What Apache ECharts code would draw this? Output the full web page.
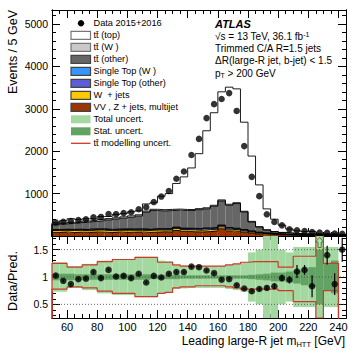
<!DOCTYPE html>
<html><head><meta charset="utf-8">
<script src="https://cdn.jsdelivr.net/npm/echarts@6/dist/echarts.min.js"></script>
<style>html,body{margin:0;padding:0;background:#fff}#c{width:353px;height:350px}</style>
</head><body><div id="c"></div>
<script>
const FONT = "'Liberation Sans', Arial, Helvetica, sans-serif";
const binLow = [50,55,60,65,70,75,80,85,90,95,100,105,110,115,120,125,130,135,140,145,150,155,160,165,170,175,180,185,190,195,200,205,210,215,220,225,230,235,240];
const binWidth = 5;
const dataEvents = [320,335,355,375,395,440,450,520,515,540,560,630,680,800,930,1060,1350,1520,1910,2290,2780,3110,3230,3370,2950,2120,1395,940,511,329,251,156,133,116,92,80,75,60,52];
const vvZjets = [85,95,80,90,85,95,90,80,95,85,90,95,85,90,100,95,130,110,100,95,105,120,170,120,110,90,70,50,40,30,25,20,15,15,12,10,10,8,6];
const wJets = [45,40,50,45,40,45,50,45,40,50,45,40,45,50,40,45,45,40,45,40,45,40,45,40,35,30,25,20,15,12,10,8,7,6,5,4,4,3,3];
const stOther = [15,15,18,15,17,18,18,20,18,20,20,22,20,22,22,24,25,25,26,28,30,30,32,30,28,24,18,14,10,8,6,5,4,4,3,3,3,2,2];
const stW = [8,8,9,10,10,11,12,13,14,15,14,14,13,12,12,11,10,10,10,10,10,11,12,11,10,9,8,7,6,5,4,4,3,3,3,2,2,2,2];
const ttOther = [112,127,143,155,178,176,190,222,233,250,271,299,397,426,416,425,400,415,419,447,450,499,567,523,582,413,209,119,69,45,35,28,26,20,22,21,16,18,17];
const ttW = [20,20,22,22,25,25,28,30,30,32,35,30,28,30,30,28,25,25,25,25,25,25,25,25,20,18,15,10,8,6,5,4,4,3,3,3,2,2,2];
const ttTop = [27,55,86,53,52,34,71,50,80,77,96,94,168,154,319,372,604,769,980,1296,1817,2182,2549,2761,2685,2100,1540,985,491,290,171,95,62,52,63,2,17,34,5];
const ratio = [1.025,0.93,0.87,0.96,0.97,1.09,0.98,1.13,1.01,1.02,0.98,1.06,0.90,1.02,0.99,1.06,1.09,1.09,1.19,1.18,1.12,1.07,0.95,0.96,0.85,0.79,0.74,0.78,0.80,0.83,0.98,0.95,1.10,1.13,0.83,2.0,1.40,0.87,1.50];
const ratioErr = [0.02,0.02,0.02,0.02,0.02,0.02,0.02,0.02,0.02,0.02,0.02,0.02,0.02,0.02,0.02,0.02,0.02,0.02,0.02,0.02,0.02,0.02,0.02,0.02,0.02,0.02,0.02,0.03,0.04,0.05,0.06,0.07,0.12,0.09,0.2,0,0.17,0.2,0.22];
const totUnc = [0.27,0.27,0.2,0.2,0.24,0.24,0.3,0.3,0.33,0.33,0.33,0.37,0.37,0.37,0.3,0.29,0.22,0.21,0.2,0.2,0.2,0.2,0.2,0.22,0.24,0.27,0.45,0.5,0.75,0.75,0.5,0.45,0.55,0.55,0.55,0.9,0.55,0.55,0];
const statUnc = [0.06,0.06,0.06,0.05,0.05,0.05,0.05,0.05,0.05,0.05,0.05,0.05,0.05,0.04,0.04,0.04,0.04,0.03,0.03,0.03,0.03,0.03,0.03,0.03,0.03,0.03,0.04,0.05,0.06,0.08,0.08,0.1,0.12,0.15,0.18,0.5,0.25,0.3,0];
const modUp = [0.25,0.25,0.18,0.18,0.22,0.22,0.28,0.28,0.32,0.32,0.32,0.36,0.36,0.36,0.27,0.27,0.22,0.2,0.2,0.2,0.2,0.2,0.2,0.22,0.24,0.27,0.28,0.28,0.28,0.28,0.18,0.18,0.38,0.38,0.38,1.0,0.25,0.25];
const modDn = [0.22,0.22,0.18,0.18,0.2,0.2,0.26,0.26,0.3,0.3,0.3,0.36,0.36,0.36,0.3,0.28,0.2,0.18,0.18,0.16,0.16,0.16,0.16,0.18,0.2,0.22,0.22,0.22,0.22,0.22,0.25,0.25,0.45,0.45,0.45,0.75,0.25,0.25];
const xTickLabels = [60,80,100,120,140,160,180,200,220,240];
const yTickLabels = [1000,2000,3000,4000,5000];
const rTickLabels = [0.5,1,1.5];
const refLines = [0.5,1,1.5];
const xRange = [50,245], yRange = [0,5330], rRange = [0.25,1.75];

const layers = [
  {vals: vvZjets, color:'#9a3606'},
  {vals: wJets, color:'#ffc800'},
  {vals: stOther, color:'#5d5dd6'},
  {vals: stW, color:'#3696ff'},
  {vals: ttOther, color:'#666666'},
  {vals: ttW, color:'#c9c9c9'},
  {vals: ttTop, color:'#ffffff'}
];

function range(a,b,s){const r=[];for(let v=a;v<=b+1e-9;v+=s)r.push(Math.round(v*1000)/1000);return r;}
const xMinor = range(50,245,5), yMinor = range(0,5300,200), rMinor = range(0.3,1.7,0.1);

function clampRect(params, api){
  const cs = params.coordSys;
  const p0 = api.coord([api.value(0), api.value(3)]);
  const p1 = api.coord([api.value(1), api.value(2)]);
  let y0 = Math.max(cs.y, Math.min(cs.y+cs.height, p0[1]));
  let y1 = Math.max(cs.y, Math.min(cs.y+cs.height, p1[1]));
  return {x:p0[0], y:y0, width:p1[0]-p0[0], height:y1-y0};
}
function rectSeries(items, color, xi, yi, z){
  return {type:'custom', xAxisIndex:xi, yAxisIndex:yi, z:z, silent:true, animation:false,
    encode:{x:[0,1], y:[2,3]}, data:items,
    renderItem:(params, api)=>({type:'rect', shape:clampRect(params, api), style:{fill:color}})};
}

const series = [];
let cum = binLow.map(()=>0);
const outlines = [];
layers.forEach((L)=>{
  const lo = cum.slice();
  const hi = cum.map((c,i)=>c+L.vals[i]);
  series.push(rectSeries(binLow.map((x,i)=>[x, x+binWidth, lo[i], hi[i]]), L.color, 0, 0, 2));
  const pts = [[binLow[0],0]];
  hi.forEach((h,i)=>{pts.push([binLow[i],h]); pts.push([binLow[i]+binWidth,h]);});
  pts.push([binLow[binLow.length-1]+binWidth,0]);
  outlines.push({type:'line', xAxisIndex:0, yAxisIndex:0, z:3, data:pts, symbol:'none', silent:true, animation:false,
    lineStyle:{color:'#000', width:0.9}});
  cum = hi;
});
outlines.forEach(o=>series.push(o));
series.push({type:'scatter', xAxisIndex:0, yAxisIndex:0, z:5, symbol:'circle', symbolSize:6.5, animation:false,
  itemStyle:{color:'#000'}, data: dataEvents.map((v,i)=>[binLow[i]+binWidth/2, v])});

series.push(rectSeries(binLow.map((x,i)=>[x, x+binWidth, 1-totUnc[i], 1+totUnc[i]]).filter((d,i)=>totUnc[i]>0), '#a3d9a0', 4, 4, 1));
series.push(rectSeries(binLow.map((x,i)=>[x, x+binWidth, 1-statUnc[i], 1+statUnc[i]]).filter((d,i)=>statUnc[i]>0), '#62a262', 4, 4, 2));
refLines.forEach(r=>series.push({type:'line', xAxisIndex:4, yAxisIndex:4, z:3, symbol:'none', silent:true, animation:false,
  data:[[xRange[0], r],[xRange[1], r]], lineStyle:{color:'#444', width:0.8, type:[1,2]}}));
function modLine(devs, sign){
  const pts = [[binLow[0], rRange[0]-1]];
  devs.forEach((d,i)=>{pts.push([binLow[i], 1+sign*d]); pts.push([binLow[i]+binWidth, 1+sign*d]);});
  pts.push([binLow[devs.length-1]+binWidth, rRange[0]-1]);
  return {type:'line', xAxisIndex:4, yAxisIndex:4, z:4, data:pts, symbol:'none', silent:true, animation:false, clip:true,
    lineStyle:{color:'#cc3a2a', width:1.2}};
}
series.push(modLine(modUp, 1));
series.push(modLine(modDn, -1));
series.push({type:'custom', xAxisIndex:4, yAxisIndex:4, z:6, silent:true, animation:false,
  encode:{x:0, y:[1,2]},
  data: ratio.map((r,i)=>[binLow[i]+binWidth/2, r-ratioErr[i], r+ratioErr[i]]).filter((d,i)=>ratio[i]<=rRange[1] && ratioErr[i]>0),
  renderItem:(params, api)=>{
    const a = api.coord([api.value(0), api.value(1)]);
    const b = api.coord([api.value(0), api.value(2)]);
    return {type:'line', shape:{x1:a[0], y1:a[1], x2:b[0], y2:b[1]}, style:{stroke:'#000', lineWidth:1.2}};
  }});
series.push({type:'scatter', xAxisIndex:4, yAxisIndex:4, z:7, symbol:'circle', symbolSize:6.5, animation:false,
  itemStyle:{color:'#000'}, data: ratio.map((r,i)=>[binLow[i]+binWidth/2, r]).filter(d=>d[1]<=rRange[1])});
series.push({type:'custom', xAxisIndex:4, yAxisIndex:4, z:7, silent:true, animation:false,
  encode:{x:0, y:1},
  data: ratio.map((r,i)=>[binLow[i]+binWidth/2, r]).filter(d=>d[1]>rRange[1]),
  renderItem:(params, api)=>{
    const cs = params.coordSys;
    const c = api.coord([api.value(0), rRange[1]]);
    const x = c[0], t = cs.y + 1.5;
    return {type:'polygon', shape:{points:[[x,t],[x+4,t+4.5],[x+1.6,t+4.5],[x+1.6,t+10],[x-1.6,t+10],[x-1.6,t+4.5],[x-4,t+4.5]]},
      style:{fill:'#b5e3b0', stroke:'#2d6b2d', lineWidth:0.8}};
  }});

function xAx(grid, pos, ticks, len, labels){
  return {type:'value', gridIndex:grid, position:pos, min:xRange[0], max:xRange[1],
    axisLine:{show:true, onZero:false, lineStyle:{color:'#000', width:1}},
    axisTick:{show:true, inside:true, length:len, customValues:ticks, lineStyle:{color:'#000', width:1}},
    axisLabel: labels ? {show:true, customValues:xTickLabels, margin:3, color:'#000', fontSize:11, fontFamily:FONT, formatter:v=>String(v)} : {show:false},
    splitLine:{show:false}};
}
function yAx(grid, pos, rng, ticks, len, labels, fs){
  return {type:'value', gridIndex:grid, position:pos, min:rng[0], max:rng[1],
    axisLine:{show:true, onZero:false, lineStyle:{color:'#000', width:1}},
    axisTick:{show:true, inside:true, length:len, customValues:ticks, lineStyle:{color:'#000', width:1}},
    axisLabel: labels ? {show:true, customValues:labels, margin:4, color:'#000', fontSize:fs, fontFamily:FONT, formatter:v=>String(v)} : {show:false},
    splitLine:{show:false}};
}

const option = {
  animation:false,
  backgroundColor:'#fff',
  grid:[{left:52, top:10, width:294, height:226}, {left:52, top:236, width:294, height:82}],
  xAxis:[
    xAx(0,'bottom',xTickLabels,8,false), xAx(0,'top',xTickLabels,8,false),
    xAx(0,'bottom',xMinor,4,false), xAx(0,'top',xMinor,4,false),
    xAx(1,'bottom',xTickLabels,8,true), xAx(1,'top',xTickLabels,8,false),
    xAx(1,'bottom',xMinor,4,false), xAx(1,'top',xMinor,4,false)
  ],
  yAxis:[
    yAx(0,'left',yRange,yTickLabels,8,yTickLabels,10.5), yAx(0,'right',yRange,yTickLabels,8,null),
    yAx(0,'left',yRange,yMinor,4,null), yAx(0,'right',yRange,yMinor,4,null),
    yAx(1,'left',rRange,rTickLabels,8,rTickLabels,10.5), yAx(1,'right',rRange,rTickLabels,8,null),
    yAx(1,'left',rRange,rMinor,4,null), yAx(1,'right',rRange,rMinor,4,null)
  ],
  series: series,
  graphic: []
};

const legendItems = [
  {label:'Data 2015+2016', kind:'dot'},
  {label:'tt̄ (top)', kind:'box', fill:'#ffffff', stroke:'#777'},
  {label:'tt̄ (W )', kind:'box', fill:'#c9c9c9', stroke:'#777'},
  {label:'tt̄ (other)', kind:'box', fill:'#666666', stroke:'#444'},
  {label:'Single Top (W )', kind:'box', fill:'#3696ff', stroke:'#444'},
  {label:'Single Top (other)', kind:'box', fill:'#5d5dd6', stroke:'#444'},
  {label:'W  + jets', kind:'box', fill:'#ffc800', stroke:'#444'},
  {label:'VV , Z + jets, multijet', kind:'box', fill:'#9a3606', stroke:'#444'},
  {label:'Total uncert.', kind:'box', fill:'#a3d9a0', stroke:null},
  {label:'Stat. uncert.', kind:'box', fill:'#62a262', stroke:null},
  {label:'tt̄ modelling uncert.', kind:'line', color:'#cc3a2a'}
];
const g = [];
legendItems.forEach((it, i)=>{
  const yc = 23.3 + 12*i;
  if (it.kind==='dot') g.push({type:'circle', shape:{cx:81, cy:yc, r:3.2}, style:{fill:'#000'}});
  else if (it.kind==='box') g.push({type:'rect', shape:{x:71, y:yc-4, width:19.5, height:8}, style:{fill:it.fill, stroke:it.stroke||null, lineWidth:it.stroke?1.2:0}});
  else g.push({type:'line', shape:{x1:71, y1:yc, x2:90.5, y2:yc}, style:{stroke:it.color, lineWidth:1.3}});
  g.push({type:'text', x:93.5, y:yc, style:{text:it.label, fill:'#000', font:'9.2px '+FONT, textAlign:'left', textVerticalAlign:'middle'}});
});
g.push({type:'text', x:215, y:23.5, style:{text:'ATLAS', fill:'#000', font:'italic bold 11px '+FONT, textVerticalAlign:'middle'}});
g.push({type:'text', x:215, y:36, style:{text:'{n|√s = 13 TeV, 36.1 fb}{u|-1}', rich:{n:{fontSize:10, fontFamily:FONT, fill:'#000'}, u:{fontSize:7, fontFamily:FONT, fill:'#000', verticalAlign:'top', padding:[0,0,4,0]}}, textVerticalAlign:'middle'}});
g.push({type:'text', x:215, y:48.3, style:{text:'Trimmed C/A R=1.5 jets', fill:'#000', font:'10px '+FONT, textVerticalAlign:'middle'}});
g.push({type:'text', x:215, y:60.7, style:{text:'ΔR(large-R jet, b-jet) < 1.5', fill:'#000', font:'10px '+FONT, textVerticalAlign:'middle'}});
g.push({type:'text', x:215, y:73, style:{text:'{n|p}{d|T}{n| > 200 GeV}', rich:{n:{fontSize:10, fontFamily:FONT, fill:'#000'}, d:{fontSize:7, fontFamily:FONT, fill:'#000', padding:[5,0,0,0]}}, textVerticalAlign:'middle'}});
g.push({type:'text', x:13, y:10, rotation:Math.PI/2, style:{text:'Events / 5 GeV', fill:'#000', font:'12.5px '+FONT, textAlign:'right', textVerticalAlign:'middle'}});
g.push({type:'text', x:13, y:281, rotation:Math.PI/2, style:{text:'Data/Pred.', fill:'#000', font:'12.5px '+FONT, textAlign:'center', textVerticalAlign:'middle'}});
g.push({type:'text', x:345, y:341, style:{text:'{n|Leading large-R jet m}{d|HTT}{n| [GeV]}', rich:{n:{fontSize:12, fontFamily:FONT, fill:'#000'}, d:{fontSize:7.5, fontFamily:FONT, fill:'#000', padding:[6,0,0,0]}}, textAlign:'right', textVerticalAlign:'middle'}});
option.graphic = g;

const chart = echarts.init(document.getElementById('c'), null, {renderer:'svg', width:353, height:350});
chart.setOption(option);
</script></body></html>
